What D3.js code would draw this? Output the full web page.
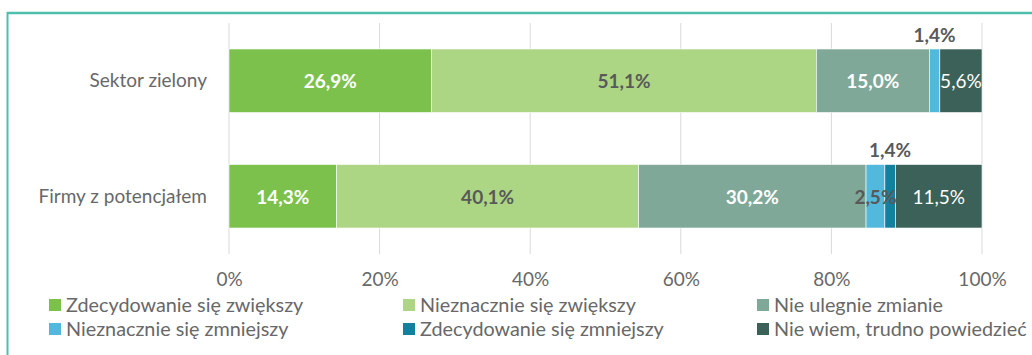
<!DOCTYPE html>
<html>
<head>
<meta charset="utf-8">
<script src="https://cdnjs.cloudflare.com/ajax/libs/d3/7.8.5/d3.min.js"></script>
<style>
  html, body { margin: 0; padding: 0; background: #fff; }
  svg { display: block; font-family: Lato, "Open Sans", sans-serif; }
</style>
</head>
<body>
<svg id="chart" width="1032" height="355"></svg>
<script>
// Response categories (stack order, left to right)
const series = [
  "Zdecydowanie się zwiększy",
  "Nieznacznie się zwiększy",
  "Nie ulegnie zmianie",
  "Nieznacznie się zmniejszy",
  "Zdecydowanie się zmniejszy",
  "Nie wiem, trudno powiedzieć"
];
const seriesColors = ["#7cc14c", "#add684", "#7fa898", "#52b8dc", "#14809f", "#3b6158"];

// Groups of firms
const categories = ["Sektor zielony", "Firmy z potencjałem"];

// Shares in percent, one array per group, in series order
const sektorZielony = [26.9, 51.1, 15.0, 1.4, 0, 5.6];
const firmyZPotencjalem = [14.3, 40.1, 30.2, 2.5, 1.4, 11.5];
const values = [sektorZielony, firmyZPotencjalem];

// Label styling per series: text colour and weight
const labelColors = ["#ffffff", "#595959", "#ffffff", "#595959", "#595959", "#ffffff"];
const labelBold = [true, true, true, true, true, false];

// Segments whose label sits above the bar
const labelsAbove = [
  { category: "Sektor zielony", series: 3 },
  { category: "Firmy z potencjałem", series: 4 }
];

const tickValues = [0, 20, 40, 60, 80, 100];

const textGray = "#686868";

const svg = d3.select("#chart");
const margin = { left: 229, right: 50, top: 23, bottom: 101 };
const W = 1032, H = 355;

const x = d3.scaleLinear().domain([0, 100]).range([margin.left, W - margin.right]);
const y = d3.scaleBand().domain(categories).range([margin.top, H - margin.bottom]).paddingInner(0.45).paddingOuter(0.225);

const fmt = v => d3.format(".1f")(v).replace(".", ",") + "%";

// Frame lines
svg.append("line").attr("x1", 7).attr("x2", W).attr("y1", 13).attr("y2", 13)
  .attr("stroke", "#4cc0ad").attr("stroke-width", 2.5);
svg.append("line").attr("x1", 7.5).attr("x2", 7.5).attr("y1", 12).attr("y2", H)
  .attr("stroke", "#4cc0ad").attr("stroke-width", 2);

// Vertical gridlines
svg.append("g").selectAll("line").data(tickValues).join("line")
  .attr("x1", d => x(d)).attr("x2", d => x(d))
  .attr("y1", margin.top).attr("y2", H - margin.bottom)
  .attr("stroke", "#d9d9d9").attr("stroke-width", 1);

// Tick labels
const xAxis = d3.axisBottom(x).tickValues(tickValues).tickFormat(d => d + "%").tickSize(0).tickPadding(0);
const ax = svg.append("g").attr("transform", `translate(0, ${H - margin.bottom + 18})`).call(xAxis);
ax.select(".domain").remove();
ax.selectAll("text").attr("font-family", "Lato, sans-serif").attr("font-size", 19).attr("fill", textGray);

// Category labels
svg.append("g").selectAll("text").data(categories).join("text")
  .attr("x", 207).attr("y", d => y(d) + y.bandwidth() / 2)
  .attr("dy", "0.35em").attr("text-anchor", "end")
  .attr("font-size", 19).attr("fill", textGray)
  .text(d => d);

// Stacked segments
const stackData = categories.map((c, i) => {
  const o = { category: c };
  series.forEach((s, j) => o[s] = values[i][j]);
  return o;
});
const stacked = d3.stack().keys(series)(stackData);

const layers = svg.append("g").selectAll("g").data(stacked).join("g")
  .attr("fill", (d, i) => seriesColors[i]);
layers.selectAll("rect").data(d => d.filter(p => p[1] - p[0] > 0)).join("rect")
  .attr("x", d => x(d[0])).attr("width", d => x(d[1]) - x(d[0]))
  .attr("y", d => y(d.data.category)).attr("height", y.bandwidth())
  .attr("stroke", "#ffffff").attr("stroke-width", 0.6);

// Value labels
stacked.forEach((layer, si) => {
  layer.forEach(p => {
    const v = p[1] - p[0];
    if (v <= 0) return;
    const cat = p.data.category;
    const above = labelsAbove.some(a => a.category === cat && a.series === si);
    const cx = x((p[0] + p[1]) / 2);
    const cy = above ? y(cat) - 14 : y(cat) + y.bandwidth() / 2 + 1;
    svg.append("text")
      .attr("x", cx).attr("y", cy).attr("dy", "0.35em")
      .attr("text-anchor", "middle")
      .attr("font-size", 19)
      .attr("font-weight", labelBold[si] ? 700 : 400)
      .attr("fill", above ? "#595959" : labelColors[si])
      .text(fmt(v));
  });
});

// Legend: three columns, two rows
const legendX = [49, 403, 757];
const legendY = [305, 329];
const lg = svg.append("g").selectAll("g").data(series).join("g")
  .attr("transform", (d, i) => `translate(${legendX[i % 3]}, ${legendY[Math.floor(i / 3)]})`);
lg.append("rect").attr("x", 0).attr("y", -6).attr("width", 12).attr("height", 12)
  .attr("fill", (d, i) => seriesColors[i]);
lg.append("text").attr("x", 17).attr("y", 0).attr("dy", "0.35em")
  .attr("font-size", 19.8).attr("fill", textGray).text(d => d);
</script>
</body>
</html>
